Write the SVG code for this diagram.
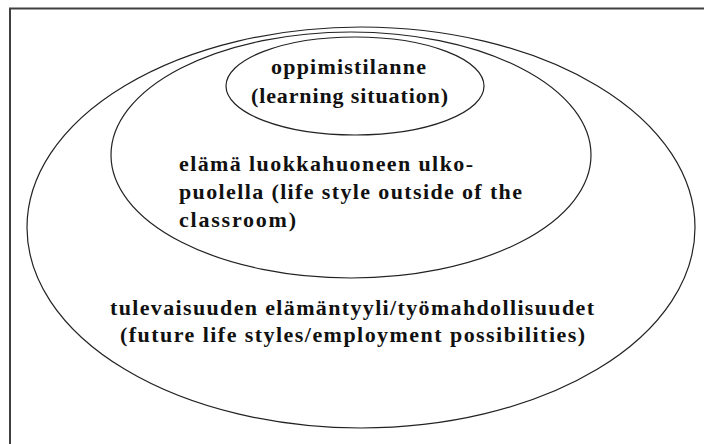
<svg xmlns="http://www.w3.org/2000/svg" width="704" height="444" viewBox="0 0 704 444">
<style>
.e{fill:none;stroke:#222;stroke-width:1.2}
.t{font-family:"Liberation Serif","Times New Roman",serif;font-weight:bold;font-size:22px;fill:#111}
</style>
<rect width="704" height="444" fill="#fff"/>
<rect x="10" y="8.5" width="800" height="500" fill="none" stroke="#404040" stroke-width="2"/>
<g id="outer">
<ellipse class="e" cx="361" cy="227.5" rx="334" ry="200.5"/>
<text class="t" x="110" y="315" textLength="484" lengthAdjust="spacing">tulevaisuuden elämäntyyli/työmahdollisuudet</text>
<text class="t" x="120" y="342" textLength="465" lengthAdjust="spacing">(future life styles/employment possibilities)</text>
</g>
<g id="middle">
<ellipse class="e" cx="351" cy="155" rx="240" ry="123"/>
<text class="t" x="179" y="171" textLength="294" lengthAdjust="spacing">elämä luokkahuoneen ulko-</text>
<text class="t" x="179" y="199" textLength="343" lengthAdjust="spacing">puolella (life style outside of the</text>
<text class="t" x="179" y="227" textLength="117" lengthAdjust="spacing">classroom)</text>
</g>
<g id="inner">
<ellipse class="e" cx="355" cy="86" rx="129" ry="49"/>
<text class="t" x="271" y="74" textLength="155" lengthAdjust="spacing">oppimistilanne</text>
<text class="t" x="251" y="103" textLength="197" lengthAdjust="spacing">(learning situation)</text>
</g>
</svg>
